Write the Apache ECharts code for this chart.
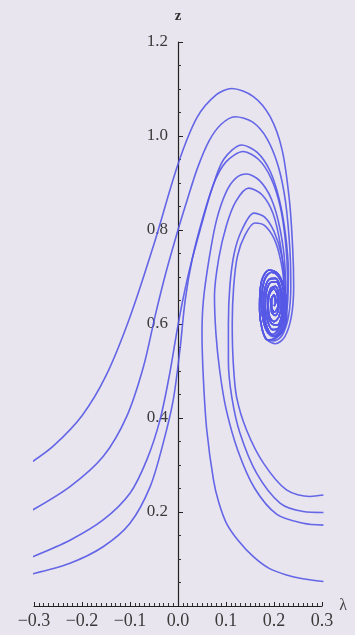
<!DOCTYPE html>
<html>
<head>
<meta charset="utf-8">
<script src="https://cdn.jsdelivr.net/npm/echarts@6/dist/echarts.min.js"></script>
<style>
html,body{margin:0;padding:0;background:#e8e5ee;}
#chart{width:355px;height:635px;}
</style>
</head>
<body>
<div id="chart"></div>
<script>
// Tick labels
const xTicks = [-0.3, -0.2, -0.1, 0.0, 0.1, 0.2, 0.3];
const yTicks = [0.2, 0.4, 0.6, 0.8, 1.0, 1.2];

// Trajectories (lambda, z)
const L1 = [[-0.305,0.306],[-0.26,0.34],[-0.2,0.405],[-0.15,0.49],[-0.1,0.615],[-0.05,0.77],[0,0.94],[0.04,1.04],[0.08,1.088],[0.112,1.101],[0.157,1.084],[0.192,1.041],[0.217,0.970],[0.232,0.864],[0.239,0.76],[0.241,0.68],[0.236,0.615],[0.222,0.572],[0.203,0.558]];
const L2 = [[-0.305,0.203],[-0.225,0.254],[-0.156,0.318],[-0.107,0.403],[-0.072,0.509],[-0.047,0.62],[-0.025,0.71],[0,0.80],[0.018,0.86],[0.04,0.93],[0.065,0.99],[0.09,1.025],[0.119,1.041],[0.155,1.03],[0.185,0.995],[0.209,0.935],[0.224,0.86],[0.233,0.76],[0.235,0.68],[0.23,0.615],[0.217,0.576],[0.2,0.564]];
const L3 = [[-0.305,0.104],[-0.225,0.14],[-0.156,0.183],[-0.1,0.24],[-0.065,0.311],[-0.0375,0.396],[-0.017,0.496],[-0.003,0.58],[0.01,0.651],[0.025,0.72],[0.046,0.80],[0.07,0.885],[0.095,0.95],[0.133,0.981],[0.165,0.965],[0.192,0.925],[0.211,0.865],[0.224,0.79],[0.23,0.71],[0.228,0.64],[0.218,0.59],[0.202,0.568]];
const L4 = [[-0.305,0.068],[-0.225,0.091],[-0.156,0.126],[-0.1,0.176],[-0.058,0.254],[-0.031,0.346],[-0.01,0.438],[0.004,0.545],[0.015,0.651],[0.03,0.74],[0.05,0.82],[0.075,0.9],[0.1,0.945],[0.136,0.967],[0.168,0.95],[0.194,0.91],[0.213,0.85],[0.224,0.775],[0.228,0.7],[0.226,0.635],[0.216,0.59],[0.201,0.57]];
const R1 = [[0.303,0.236],[0.275,0.233],[0.226,0.247],[0.178,0.304],[0.143,0.374],[0.122,0.445],[0.115,0.52],[0.113,0.6],[0.116,0.68],[0.124,0.745],[0.14,0.79],[0.16,0.815],[0.18,0.81],[0.2,0.782],[0.214,0.735],[0.221,0.68],[0.219,0.625],[0.21,0.59],[0.198,0.578]];
const R2 = [[0.303,0.199],[0.261,0.201],[0.2125,0.219],[0.164,0.282],[0.129,0.368],[0.112,0.445],[0.105,0.52],[0.105,0.6],[0.108,0.68],[0.117,0.75],[0.133,0.8],[0.158,0.836],[0.18,0.828],[0.2,0.797],[0.216,0.745],[0.224,0.68],[0.222,0.62],[0.212,0.584],[0.199,0.573]];
const R3 = [[0.303,0.172],[0.261,0.176],[0.206,0.195],[0.16,0.25],[0.125,0.33],[0.1,0.42],[0.087,0.5],[0.079,0.58],[0.076,0.66],[0.085,0.74],[0.101,0.81],[0.12,0.86],[0.147,0.889],[0.175,0.875],[0.198,0.835],[0.213,0.77],[0.22,0.7],[0.219,0.64],[0.21,0.595],[0.198,0.578]];
const R4 = [[0.303,0.052],[0.26,0.058],[0.226,0.066],[0.19,0.08],[0.157,0.105],[0.125,0.14],[0.101,0.176],[0.085,0.22],[0.074,0.268],[0.06,0.374],[0.053,0.481],[0.05,0.58],[0.053,0.651],[0.065,0.74],[0.08,0.82],[0.1,0.88],[0.12,0.91],[0.143,0.919],[0.17,0.905],[0.195,0.865],[0.213,0.8],[0.223,0.72],[0.224,0.65],[0.216,0.6],[0.2,0.575]];

// Spiral cores around the focus
const coreA = [[0.186,0.566],[0.175,0.59],[0.17,0.63],[0.171,0.67],[0.177,0.70],[0.19,0.715],[0.205,0.71],[0.217,0.69],[0.225,0.655],[0.226,0.615],[0.218,0.585],[0.205,0.573],[0.192,0.58],[0.182,0.605],[0.178,0.64],[0.181,0.675],[0.19,0.695],[0.203,0.697],[0.213,0.68],[0.218,0.65],[0.216,0.617],[0.207,0.598],[0.196,0.6],[0.188,0.62],[0.187,0.65],[0.193,0.675],[0.203,0.68],[0.21,0.663],[0.21,0.635],[0.203,0.618],[0.195,0.625],[0.194,0.65],[0.2,0.662],[0.204,0.648],[0.2,0.638]];
const coreB = [[0.187,0.582],[0.178,0.605],[0.174,0.64],[0.176,0.675],[0.183,0.7],[0.195,0.71],[0.208,0.703],[0.218,0.68],[0.222,0.645],[0.219,0.61],[0.209,0.59],[0.197,0.588],[0.187,0.605],[0.182,0.635],[0.184,0.668],[0.192,0.688],[0.204,0.69],[0.213,0.672],[0.215,0.642],[0.21,0.615],[0.2,0.605],[0.191,0.615],[0.188,0.64],[0.191,0.665],[0.2,0.675],[0.207,0.662],[0.208,0.638],[0.201,0.625],[0.195,0.635],[0.195,0.655],[0.201,0.66],[0.203,0.645]];

const leftTraj = [L1, L2, L3, L4];
const rightTraj = [R1, R2, R3, R4];

const lineColor = '#5558e6';
const fontFam = '"Liberation Serif", "DejaVu Serif", serif';

const series = [];
leftTraj.forEach(d => series.push({type:'line', data:d.concat(coreA), showSymbol:false, smooth:0.3, lineStyle:{color:lineColor, width:1.6, opacity:0.9}}));
rightTraj.forEach(d => series.push({type:'line', data:d.concat(coreB), showSymbol:false, smooth:0.3, lineStyle:{color:lineColor, width:1.6, opacity:0.9}}));

const chart = echarts.init(document.getElementById('chart'));
chart.setOption({
  animation:false,
  backgroundColor:'#e8e5ee',
  grid:{left:34, right:33, top:42, bottom:29, containLabel:false},
  xAxis:{
    type:'value', min:xTicks[0], max:xTicks[xTicks.length-1], interval:0.1,
    name:'λ', nameLocation:'end', nameGap:10,
    nameTextStyle:{fontFamily:fontFam, fontSize:16, color:'#444', verticalAlign:'middle'},
    axisLine:{onZero:false, lineStyle:{color:'#222', width:1.2}},
    axisTick:{inside:true, length:4, lineStyle:{color:'#222'}},
    minorTick:{show:true, splitNumber:10, length:3, lineStyle:{color:'#333'}},
    splitLine:{show:false},
    axisLabel:{fontFamily:fontFam, fontSize:18, color:'#3a3a3a', margin:6,
      formatter:v => v.toFixed(1).replace('-', '\u2212')}
  },
  yAxis:{
    type:'value', min:0, max:yTicks[yTicks.length-1], interval:0.2,
    name:'z', nameLocation:'end', nameGap:18,
    nameTextStyle:{fontFamily:fontFam, fontSize:15, fontWeight:'bold', color:'#333'},
    axisLine:{onZero:true, lineStyle:{color:'#222', width:1.2}},
    axisTick:{inside:true, length:5, lineStyle:{color:'#222'}},
    minorTick:{show:true, splitNumber:4, length:3, lineStyle:{color:'#333'}},
    splitLine:{show:false},
    axisLabel:{fontFamily:fontFam, fontSize:17, color:'#3a3a3a', margin:-134,
      formatter:v => (Math.abs(v) < 1e-9 ? '' : v.toFixed(1))}
  },
  series: series
});
</script>
</body>
</html>
